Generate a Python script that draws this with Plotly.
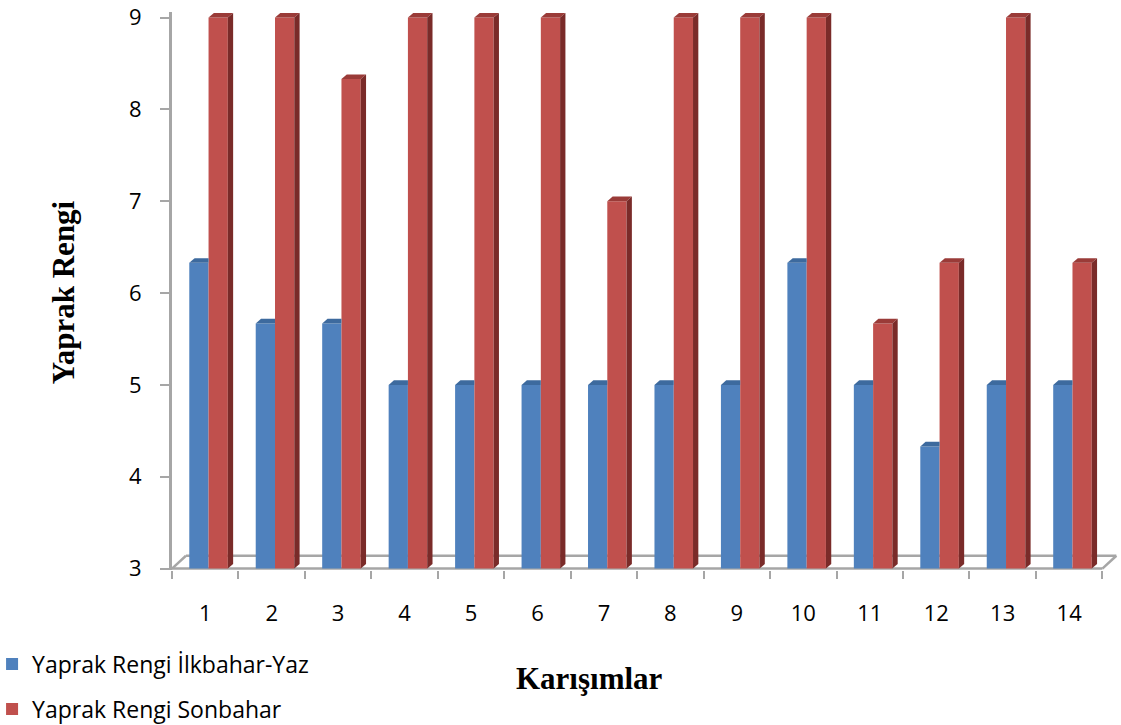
import plotly.graph_objects as go

categories = list(range(1, 15))
spring_summer = [6.33, 5.67, 5.67, 5, 5, 5, 5, 5, 5, 6.33, 5, 4.33, 5, 5]
autumn = [9, 9, 8.33, 9, 9, 9, 7, 9, 9, 9, 5.67, 6.33, 9, 6.33]
series_names = ["Yaprak Rengi İlkbahar-Yaz", "Yaprak Rengi Sonbahar"]
y_ticks = [3, 4, 5, 6, 7, 8, 9]

BLUE, RED = "#4F81BD", "#C0504D"
BLUE_TOP = "#3D6A9E"
RED_TOP, RED_SIDE = "#9A3B38", "#7A2B29"
GRID = "#A6A6A6"

W, OFF_B, OFF_R = 0.29, -0.24, 0.05
DX, DY = 0.08, 0.05         # bar depth in data units
FDX, FDY = 0.21, 0.14       # floor depth
YMIN, YMAX = 2.985, 9.06
XMIN, XMAX = 0.5, 14.75
BASE = 3

fig = go.Figure()
fig.add_trace(go.Bar(x=categories, y=[v - BASE for v in spring_summer], base=BASE,
                     width=W, offset=OFF_B, marker=dict(color=BLUE, line=dict(width=0)),
                     name=series_names[0], legendgroup="a"))
fig.add_trace(go.Bar(x=categories, y=[v - BASE for v in autumn], base=BASE,
                     width=W, offset=OFF_R, marker=dict(color=RED, line=dict(width=0)),
                     name=series_names[1], legendgroup="b"))

def poly(xs, ys, color):
    fig.add_trace(go.Scatter(x=xs + [xs[0]], y=ys + [ys[0]], mode="lines", fill="toself",
                             fillcolor=color, line=dict(width=0, color=color),
                             showlegend=False, hoverinfo="skip"))

for c, v in zip(categories, spring_summer):
    x0, x1 = c + OFF_B, c + OFF_B + W
    poly([x0, x1, x1, x0 + DX], [v, v, v + DY, v + DY], BLUE_TOP)
for c, v in zip(categories, autumn):
    x0, x1 = c + OFF_R, c + OFF_R + W
    poly([x0, x1, x1 + DX, x0 + DX], [v, v, v + DY, v + DY], RED_TOP)
    poly([x1, x1 + DX, x1 + DX, x1], [BASE, BASE + DY, v + DY, v], RED_SIDE)

# floor outline (drawn beneath the bars)
x_lo, x_hi = categories[0] - 0.5, categories[-1] + 0.5
floor_line = dict(color=GRID, width=2.5)
shapes = [
    dict(type="line", xref="x", yref="y", x0=x_lo, y0=BASE, x1=x_hi, y1=BASE, line=floor_line, layer="below"),
    dict(type="line", xref="x", yref="y", x0=x_lo + FDX, y0=BASE + FDY, x1=x_hi + FDX, y1=BASE + FDY, line=floor_line, layer="below"),
    dict(type="line", xref="x", yref="y", x0=x_lo, y0=BASE, x1=x_lo + FDX, y1=BASE + FDY, line=floor_line, layer="below"),
    dict(type="line", xref="x", yref="y", x0=x_hi, y0=BASE, x1=x_hi + FDX, y1=BASE + FDY, line=floor_line, layer="below"),
]

tick_font = dict(family="Open Sans", size=22, color="#000000")
fig.update_layout(
    width=1121, height=725,
    paper_bgcolor="white", plot_bgcolor="white",
    margin=dict(l=172, r=2, t=11.5, b=155, autoexpand=False),
    barmode="overlay",
    showlegend=True,
    shapes=shapes,
    legend=dict(x=-0.19, y=-0.13, xanchor="left", yanchor="top",
                font=dict(family="Open Sans", size=23, color="#000000"),
                traceorder="grouped", tracegroupgap=12, itemwidth=30),
    xaxis=dict(range=[XMIN, XMAX], tickvals=categories, ticktext=[str(c) for c in categories],
               ticks="", showline=False, showgrid=False, zeroline=False,
               tickfont=tick_font, ticklabelstandoff=28,
               minor=dict(tickvals=[c - 0.5 for c in categories] + [categories[-1] + 0.5],
                          ticks="outside", ticklen=8, tickcolor=GRID, tickwidth=2)),
    yaxis=dict(range=[YMIN, YMAX], tickvals=y_ticks, ticks="outside", ticklen=9,
               tickcolor=GRID, tickwidth=2, showline=True, linecolor=GRID, linewidth=3,
               showgrid=False, zeroline=False, tickfont=tick_font, ticklabelstandoff=14),
    annotations=[
        dict(text="<b>Karışımlar</b>", xref="paper", yref="paper", x=0.441, y=-0.195,
             xanchor="center", yanchor="middle", showarrow=False,
             font=dict(family="Liberation Serif", size=31, color="#000000")),
        dict(text="<b>Yaprak Rengi</b>", xref="paper", yref="paper", x=-0.115, y=0.498,
             xanchor="center", yanchor="middle", textangle=-90, showarrow=False,
             font=dict(family="Liberation Serif", size=31, color="#000000")),
    ],
)

fig.write_html("out.html", config={"displayModeBar": False},
               post_script="document.body.style.margin='0';")
